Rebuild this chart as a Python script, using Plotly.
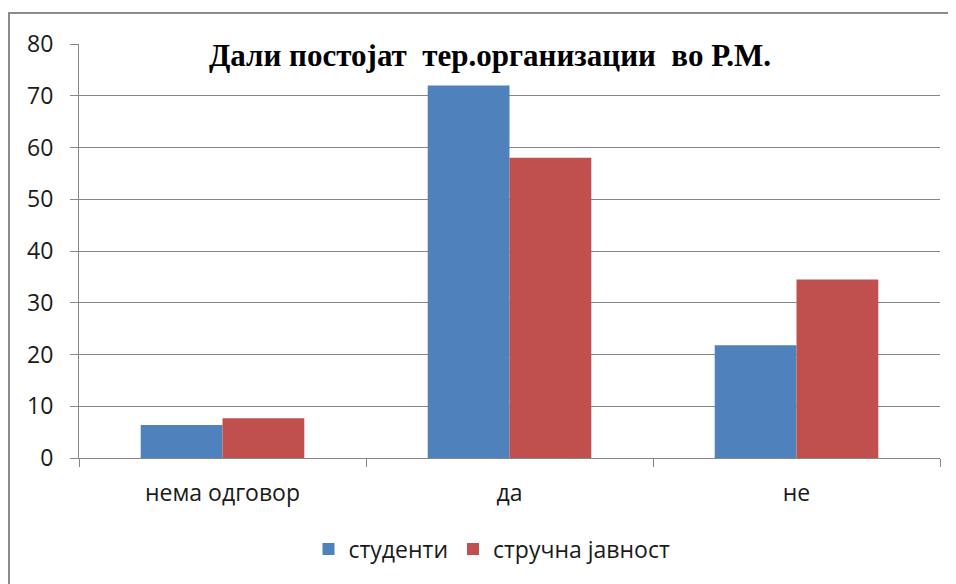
import plotly.graph_objects as go

categories = ["нема одговор", "да", "не"]
studenti = [6.4, 72.0, 21.8]
strucna = [7.7, 58.0, 34.5]
series_names = ["студенти", "стручна јавност"]
y_ticks = [0, 10, 20, 30, 40, 50, 60, 70, 80]

OFF = 8  # page body margin
W, H = 956 - OFF, 584 - OFF
L, R, T, B = 79 - OFF, 956 - 940, 44 - OFF, 584 - 458
pw, ph = W - L - R, H - T - B

fig = go.Figure()
fig.add_trace(go.Bar(x=categories, y=studenti, name=series_names[0],
                     marker=dict(color="#4F81BD", line=dict(width=0))))
fig.add_trace(go.Bar(x=categories, y=strucna, name=series_names[1],
                     marker=dict(color="#C0504D", line=dict(width=0))))

font_main = "Open Sans, Liberation Sans, Arial, sans-serif"
fig.update_layout(
    width=W, height=H,
    margin=dict(l=L, r=R, t=T, b=B),
    paper_bgcolor="white", plot_bgcolor="white",
    barmode="group", bargap=0.43, bargroupgap=0,
    font=dict(family=font_main, size=23, color="#1a1a1a"),
    title=dict(text="<b>Дали постојат  тер.организации  во Р.М.</b>",
               font=dict(family="Liberation Serif, Times New Roman, serif", size=31, color="#000000"),
               x=(490 - OFF) / W, xanchor="center", y=1 - (55 - OFF) / H, yanchor="middle"),
    xaxis=dict(showline=True, linecolor="#868686", linewidth=1,
               ticks="outside", tickson="boundaries", ticklen=8, tickcolor="#868686",
               showgrid=False, tickfont=dict(size=23), ticklabelstandoff=14, fixedrange=True),
    yaxis=dict(range=[0, 80], tickvals=y_ticks, showline=True, linecolor="#868686", linewidth=1,
               ticks="outside", ticklen=8, tickcolor="#868686",
               showgrid=True, gridcolor="#868686", gridwidth=1,
               zeroline=False, tickfont=dict(size=23), ticklabelstandoff=12, fixedrange=True),
    legend=dict(orientation="h", x=(492 - 79) / pw, xanchor="center",
                y=(458 - 549) / ph, yanchor="middle", font=dict(size=23),
                itemwidth=30, traceorder="normal"),
    showlegend=True,
)

# outer chart-area border (left and top visible)
fig.add_shape(type="rect", xref="paper", yref="paper",
              x0=(9 - 79) / pw, x1=1.2, y0=-0.6, y1=(458 - 13) / ph,
              line=dict(color="#8c8c8c", width=2), layer="below")

fig.write_html("out.html")
